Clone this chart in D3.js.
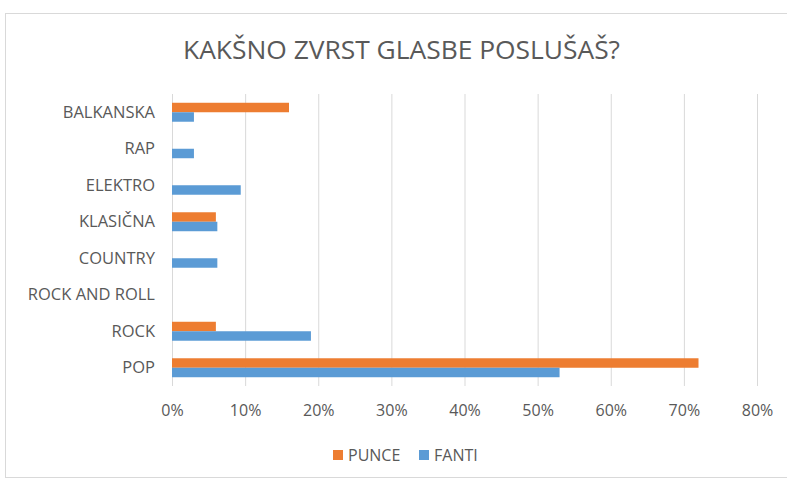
<!DOCTYPE html>
<html><head><meta charset="utf-8">
<script src="https://cdn.jsdelivr.net/npm/d3@7"></script>
<style>body{margin:0;background:#fff}svg{display:block}</style>
</head><body><svg id="c" width="787" height="480"></svg>
<script>
const categories = ["BALKANSKA","RAP","ELEKTRO","KLASIČNA","COUNTRY","ROCK AND ROLL","ROCK","POP"];
const punce = [16, 0, 0, 6, 0, 0, 6, 72];
const fanti = [3, 3, 9.4, 6.2, 6.2, 0, 19, 53];
const tickValues = [0,10,20,30,40,50,60,70,80];
const seriesNames = ["PUNCE","FANTI"];
const colors = ["#ED7D31","#5B9BD5"];

const svg = d3.select("#c");
const font = "'Open Sans', sans-serif";
svg.append("rect").attr("x",5.5).attr("y",13.5).attr("width",800).attr("height",464)
  .attr("fill","#fff").attr("stroke","#d9d9d9");
svg.append("text").attr("x",401.5).attr("y",59).attr("text-anchor","middle")
  .attr("font-family",font).attr("font-size",26).attr("fill","#595959")
  .attr("textLength",437).attr("lengthAdjust","spacingAndGlyphs").text("KAKŠNO ZVRST GLASBE POSLUŠAŠ?");

const x = d3.scaleLinear().domain([0,80]).range([172,757]);
const y = d3.scaleBand().domain(categories).range([94,386]).paddingInner(0.48).paddingOuter(0.24);
const sub = d3.scaleBand().domain(seriesNames).range([0,y.bandwidth()]);

const g = svg.append("g");
g.selectAll("line.grid").data(tickValues).join("line")
  .attr("x1",d=>x(d)+0.5).attr("x2",d=>x(d)+0.5).attr("y1",94).attr("y2",386)
  .attr("stroke","#d9d9d9").attr("stroke-width",1);

[punce,fanti].forEach((vals,si)=>{
  g.selectAll("rect.s"+si).data(categories).join("rect")
    .attr("x",x(0)).attr("y",d=>y(d)+sub(seriesNames[si]))
    .attr("width",(d,i)=>x(vals[i])-x(0)).attr("height",sub.bandwidth())
    .attr("fill",colors[si]);
});

const xAxis = d3.axisBottom(x).tickValues(tickValues).tickFormat(d=>d+"%").tickSize(0).tickPadding(10);
const ax = svg.append("g").attr("transform","translate(0,400)").call(xAxis);
ax.select(".domain").remove();
ax.selectAll("text").attr("font-family",font).attr("font-size",16).attr("fill","#595959").attr("dy","0.35em").attr("y",10);

const yAxis = d3.axisLeft(y).tickSize(0).tickPadding(0);
const ay = svg.append("g").attr("transform","translate(155,0)").call(yAxis);
ay.select(".domain").remove();
ay.selectAll("text").attr("font-family",font).attr("font-size",16.5).attr("fill","#595959");

const leg = svg.append("g");
const lx = [333, 419];
seriesNames.forEach((n,i)=>{
  leg.append("rect").attr("x",lx[i]).attr("y",450).attr("width",10).attr("height",10).attr("fill",colors[i]);
  leg.append("text").attr("x",lx[i]+15).attr("y",455).attr("dy","0.35em")
    .attr("font-family",font).attr("font-size",16).attr("fill","#595959").text(n);
});
</script></body></html>
